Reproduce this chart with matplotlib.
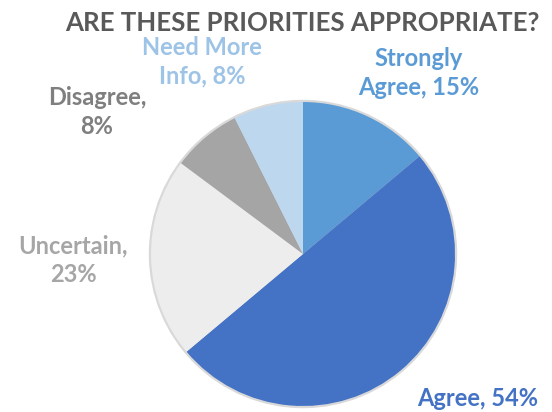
import matplotlib.pyplot as plt
from matplotlib.patches import Circle

plt.rcParams['font.family'] = ['Lato', 'DejaVu Sans']

# survey responses, clockwise from the top
labels = ['Strongly\nAgree, 15%', 'Agree, 54%', 'Uncertain,\n23%', 'Disagree,\n8%', 'Need More\nInfo, 8%']
values = [15, 54, 23, 8, 8]
colors = ['#5B9BD5', '#4472C4', '#EDEDED', '#A5A5A5', '#BDD7EE']
text_colors = ['#5B9BD5', '#4472C4', '#A6A6A6', '#7F7F7F', '#9DC3E6']

W, H = 552, 412
# label anchors in pixels from the top-left corner
label_pos = [(419, 73), (478, 398), (73, 260), (97, 112), (202, 62)]

fig = plt.figure(figsize=(W / 100, H / 100), dpi=100)
ax = fig.add_axes([0, 0, 1, 1])

cx, cy, r = 303, H - 254, 152
# soft rim behind the pie
ax.add_patch(Circle((cx, cy), r + 1.5, color='#D9D9D9', zorder=0))
ax.pie(values, colors=colors, startangle=90, counterclock=False,
       center=(cx, cy), radius=r,
       wedgeprops=dict(linewidth=0))

ax.set_xlim(0, W)
ax.set_ylim(0, H)
ax.set_aspect('equal')
ax.axis('off')

for lab, col, (x, y) in zip(labels, text_colors, label_pos):
    ax.text(x, H - y, lab, color=col, fontsize=17, fontweight='bold',
            ha='center', va='center', linespacing=1.3)

ax.text(302, H - 23, 'ARE THESE PRIORITIES APPROPRIATE?', color='#595959',
        fontsize=18.6, fontweight='bold', ha='center', va='center')

fig.savefig('out.png', dpi=100)
